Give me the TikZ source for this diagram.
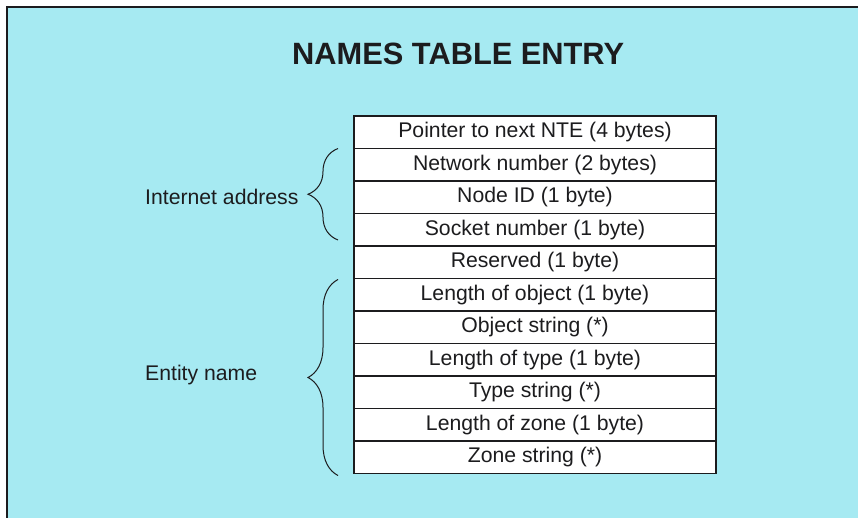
\documentclass[tikz,border=0pt]{standalone}
\usepackage{fontspec}
\setmainfont{Liberation Sans}
\usetikzlibrary{positioning, decorations.pathreplacing}

\definecolor{panelblue}{RGB}{166,234,242}
\definecolor{inkgray}{RGB}{28,28,30}

\begin{document}
\begin{tikzpicture}[
  x=1pt, y=-1pt,
  font=\fontsize{21.2}{24}\selectfont,
  node distance=0pt,
  field/.style={draw=inkgray, fill=white, line width=1.3pt,
                outer sep=0pt, inner sep=0pt, text=inkgray,
                minimum width=362pt, minimum height=32.5pt},
  brace/.style={decorate, decoration={brace, amplitude=30pt},
                draw=inkgray, line width=1pt},
  side/.style={text=inkgray, anchor=west, inner sep=0pt},
  heading/.style={font=\fontsize{30.8}{34}\selectfont\bfseries,
                  text=inkgray, inner sep=0pt, anchor=base west},
]
\useasboundingbox (0,0) rectangle (858,518);

% ------------------- panel -------------------
\fill[panelblue] (7,7) rectangle (858,518);
\draw[inkgray, line width=1.3pt] (7,518) -- (7,7) -- (858,7);

\node[heading] (hdr) at (292,65) {NAMES TABLE ENTRY};

% ------------------- entry fields -------------------
\node[field] (ptr) at (535,132.25) {Pointer to next NTE (4 bytes)};
\node[field, below=of ptr] (netnum) {Network number (2 bytes)};
\node[field, below=of netnum] (nodeid) {Node ID (1 byte)};
\node[field, below=of nodeid] (socket) {Socket number (1 byte)};
\node[field, below=of socket] (resv) {Reserved (1 byte)};
\node[field, below=of resv] (objlen) {Length of object (1 byte)};
\node[field, below=of objlen] (objstr) {Object string (*)};
\node[field, below=of objstr] (typelen) {Length of type (1 byte)};
\node[field, below=of typelen] (typestr) {Type string (*)};
\node[field, below=of typestr] (zonelen) {Length of zone (1 byte)};
\node[field, below=of zonelen] (zonestr) {Zone string (*)};

% ------------------- groups -------------------
\draw[brace] ([xshift=-16pt, yshift=6pt]socket.south west)
  -- ([xshift=-16pt]netnum.north west);
\node[side] (inetlbl) at (145,197) {Internet address};

\draw[brace] ([xshift=-16pt, yshift=-2pt]zonestr.south west)
  -- ([xshift=-16pt, yshift=-1pt]objlen.north west);
\node[side] (entlbl) at (145,375) {Entity name};

\end{tikzpicture}
\end{document}
